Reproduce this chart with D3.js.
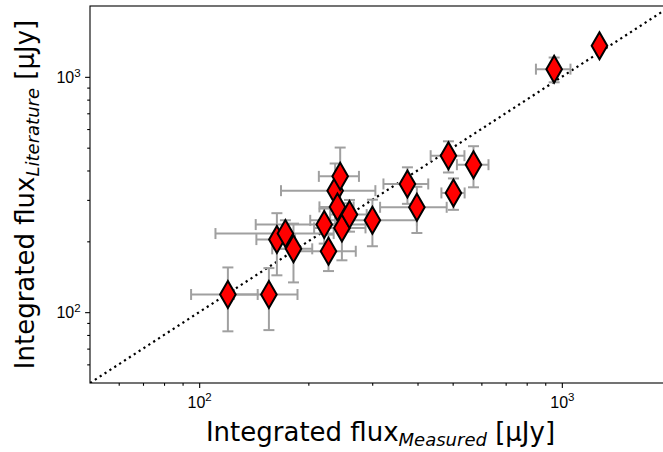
<!DOCTYPE html>
<html>
<head>
<meta charset="utf-8">
<script src="https://cdn.jsdelivr.net/npm/d3@7"></script>
<style>
  html, body { margin: 0; padding: 0; background: #fff; }
  svg { display: block; font-family: "DejaVu Sans", sans-serif; }
</style>
</head>
<body>
<svg id="chart" width="663" height="452"></svg>
<script>
// Integrated flux per source: measured vs. literature value, in µJy
const measured = [120, 155.7, 163.8, 172.9, 182, 221.2, 227.3, 237.1, 244.8, 240.6,
                  247.5, 259.7, 300.4, 375.2, 398.4, 486.8, 502.5, 570.7, 952.4, 1270];
const measuredErr = [25, 31, 20, 62, 23, 78, 43, 69, 31, 26,
                     40, 30, 98, 53, 83, 52, 37, 57, 104, 0];
const literature = [118.9, 118.9, 203.4, 215.8, 185.8, 235.6, 181.5, 328.3, 377.6, 280.1,
                    228.1, 259.8, 245.6, 350.6, 279, 462.2, 321.1, 423.3, 1078, 1354];
const literatureErr = [36, 35, 60, 30, 52, 40, 32, 100, 123, 45,
                       62, 40, 55, 62, 62, 70, 49, 84, 130, 0];

// Axis limits and ticks
const axisLimits = [50, 2000];
const majorTicks = [100, 1000];
const minorTicks = [60, 70, 80, 90, 200, 300, 400, 500, 600, 700, 800, 900];

const xLabelMain = "Integrated flux", xLabelSub = "Measured";
const yLabelMain = "Integrated flux", yLabelSub = "Literature";
const unitLabel = " [\u03bcJy]";

const svg = d3.select("#chart");
const plot = { left: 90, top: 6, right: 671, bottom: 383 };

const x = d3.scaleLog().domain(axisLimits).range([plot.left, plot.right]);
const y = d3.scaleLog().domain(axisLimits).range([plot.bottom, plot.top]);

svg.append("defs").append("clipPath").attr("id", "plotClip")
  .append("rect")
  .attr("x", plot.left).attr("y", plot.top)
  .attr("width", plot.right - plot.left).attr("height", plot.bottom - plot.top);

const data = measured.map((m, i) => ({
  x: m, xe: measuredErr[i], y: literature[i], ye: literatureErr[i]
}));

const g = svg.append("g").attr("clip-path", "url(#plotClip)");

// one-to-one reference line
g.append("line")
  .attr("x1", x(axisLimits[0])).attr("y1", y(axisLimits[0]))
  .attr("x2", x(axisLimits[1])).attr("y2", y(axisLimits[1]))
  .attr("stroke", "#000").attr("stroke-width", 2.2)
  .attr("stroke-dasharray", "2.2,3.6");

// error bars
const errColor = "#a0a0a0", cap = 5.5;
const bars = g.append("g").attr("stroke", errColor).attr("stroke-width", 2).attr("fill", "none");
data.forEach(d => {
  const cx = x(d.x), cy = y(d.y);
  if (d.xe > 0) {
    const x0 = x(d.x - d.xe), x1 = x(d.x + d.xe);
    bars.append("line").attr("x1", x0).attr("x2", x1).attr("y1", cy).attr("y2", cy);
    bars.append("line").attr("x1", x0).attr("x2", x0).attr("y1", cy - cap).attr("y2", cy + cap);
    bars.append("line").attr("x1", x1).attr("x2", x1).attr("y1", cy - cap).attr("y2", cy + cap);
  }
  if (d.ye > 0) {
    const y0 = y(d.y - d.ye), y1 = y(d.y + d.ye);
    bars.append("line").attr("x1", cx).attr("x2", cx).attr("y1", y0).attr("y2", y1);
    bars.append("line").attr("x1", cx - cap).attr("x2", cx + cap).attr("y1", y0).attr("y2", y0);
    bars.append("line").attr("x1", cx - cap).attr("x2", cx + cap).attr("y1", y1).attr("y2", y1);
  }
});

// thin diamond markers
const hw = 7.8, hh = 13.5;
g.append("g").selectAll("path").data(data).join("path")
  .attr("d", d => {
    const cx = x(d.x), cy = y(d.y);
    return `M${cx},${cy - hh}L${cx + hw},${cy}L${cx},${cy + hh}L${cx - hw},${cy}Z`;
  })
  .attr("fill", "#ff0000").attr("stroke", "#000").attr("stroke-width", 2)
  .attr("stroke-linejoin", "miter");

// axes
function styleAxis(sel) {
  sel.select(".domain").remove();
  sel.selectAll("line").attr("stroke", "#000").attr("stroke-width", 1.1);
}
function superscriptLabels(sel) {
  sel.selectAll("text").each(function(d) {
    const t = d3.select(this).text(null).attr("fill", "#000").attr("font-size", 16);
    t.append("tspan").text("10");
    t.append("tspan").attr("font-size", 11.5).attr("dy", -6.5).text(Math.round(Math.log10(d)));
  });
}

const xAxis = svg.append("g").attr("transform", `translate(0,${plot.bottom})`)
  .call(d3.axisBottom(x).tickValues(majorTicks).tickSize(4.9).tickPadding(4.5).tickFormat(d => d));
styleAxis(xAxis); superscriptLabels(xAxis);
xAxis.selectAll("text").attr("dy", "0.95em");
const xMinor = svg.append("g").attr("transform", `translate(0,${plot.bottom})`)
  .call(d3.axisBottom(x).tickValues(minorTicks).tickSize(2.8).tickFormat(""));
styleAxis(xMinor);

const yAxis = svg.append("g").attr("transform", `translate(${plot.left},0)`)
  .call(d3.axisLeft(y).tickValues(majorTicks).tickSize(4.9).tickPadding(4.5).tickFormat(d => d));
styleAxis(yAxis); superscriptLabels(yAxis);
yAxis.selectAll("text").attr("dy", "0.36em");
const yMinor = svg.append("g").attr("transform", `translate(${plot.left},0)`)
  .call(d3.axisLeft(y).tickValues(minorTicks).tickSize(2.8).tickFormat(""));
styleAxis(yMinor);

// frame
svg.append("rect")
  .attr("x", plot.left).attr("y", plot.top)
  .attr("width", plot.right - plot.left).attr("height", plot.bottom - plot.top)
  .attr("fill", "none").attr("stroke", "#000").attr("stroke-width", 1.1);

// axis titles
function axisTitle(sel, main, sub) {
  sel.attr("font-size", 26).attr("fill", "#000").attr("text-anchor", "middle");
  sel.append("tspan").text(main);
  sel.append("tspan").attr("font-size", 18).attr("font-style", "italic").attr("dy", 5).text(sub);
  sel.append("tspan").attr("dy", -5).text(unitLabel);
}
axisTitle(svg.append("text").attr("x", (plot.left + plot.right) / 2).attr("y", 441), xLabelMain, xLabelSub);
axisTitle(svg.append("text").attr("transform", `translate(34,${(plot.top + plot.bottom) / 2}) rotate(-90)`), yLabelMain, yLabelSub);
</script>
</body>
</html>
